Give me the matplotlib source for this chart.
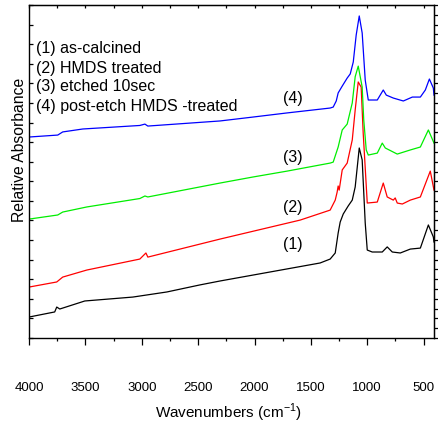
import matplotlib
matplotlib.use("Agg")
import matplotlib.pyplot as plt
from matplotlib.ticker import MultipleLocator, NullFormatter

plt.rcParams['font.family'] = ['Liberation Sans', 'DejaVu Sans']
plt.rcParams['mathtext.fontset'] = 'custom'
plt.rcParams['mathtext.rm'] = 'Liberation Sans'

# ---- data (wavenumber cm-1, relative absorbance, offset stacked) ----
wn_4 = [4000, 3745, 3701, 3523, 3017, 2972, 2946, 2306, 2013, 1711, 1329, 1302, 1275,
        1258, 1222, 1178, 1151, 1124, 1098, 1071, 1045, 1018, 991, 911, 858, 831, 769,
        680, 600, 529, 485, 449, 414, 408]
ab_4 = [1.026, 1.036, 1.052, 1.067, 1.085, 1.092, 1.082, 1.108, 1.128, 1.149, 1.174,
        1.179, 1.210, 1.251, 1.286, 1.327, 1.348, 1.409, 1.547, 1.644, 1.557, 1.317,
        1.215, 1.215, 1.266, 1.240, 1.225, 1.210, 1.230, 1.230, 1.266, 1.322, 1.276, 1.240]

wn_3 = [4000, 3745, 3701, 3487, 3017, 2972, 2946, 2306, 2013, 1711, 1329, 1302, 1258,
        1222, 1178, 1133, 1107, 1080, 1045, 1031, 1009, 991, 911, 867, 840, 734, 618,
        529, 458, 408]
ab_3 = [0.607, 0.628, 0.643, 0.669, 0.712, 0.725, 0.720, 0.791, 0.822, 0.852, 0.893,
        0.898, 0.975, 1.062, 1.092, 1.200, 1.334, 1.388, 1.281, 1.113, 0.960, 0.934,
        0.944, 0.995, 0.970, 0.939, 0.960, 0.975, 1.062, 0.995]

wn_2 = [4000, 3754, 3701, 3487, 3017, 2963, 2946, 2306, 1595, 1329, 1284, 1267, 1258,
        1249, 1222, 1178, 1133, 1107, 1080, 1054, 1036, 1000, 911, 858, 823, 769, 752,
        734, 689, 618, 529, 441, 408]
ab_2 = [0.260, 0.286, 0.311, 0.347, 0.403, 0.434, 0.413, 0.505, 0.602, 0.653, 0.704,
        0.745, 0.776, 0.755, 0.858, 0.893, 1.011, 1.164, 1.307, 1.281, 1.046, 0.689,
        0.694, 0.791, 0.720, 0.704, 0.715, 0.689, 0.684, 0.704, 0.720, 0.852, 0.755]

wn_1 = [4000, 3772, 3754, 3727, 3505, 3079, 2777, 2484, 2306, 1418, 1329, 1284, 1258,
        1240, 1213, 1169, 1133, 1107, 1071, 1045, 1018, 1000, 956, 867, 823, 778, 707,
        618, 529, 458, 414, 408]
ab_1 = [0.107, 0.133, 0.158, 0.148, 0.189, 0.209, 0.235, 0.271, 0.291, 0.383, 0.403,
        0.434, 0.536, 0.592, 0.633, 0.674, 0.704, 0.771, 0.970, 0.909, 0.587, 0.449,
        0.439, 0.439, 0.465, 0.439, 0.434, 0.454, 0.459, 0.577, 0.516, 0.490]

legend_lines = ["(1) as-calcined", "(2) HMDS treated", "(3) etched 10sec",
                "(4) post-etch HMDS -treated"]
curve_labels = ["(1)", "(2)", "(3)", "(4)"]
label_wn = [1658, 1658, 1658, 1658]
label_ab = [0.475, 0.664, 0.924, 1.225]

x_ticks = [4000, 3500, 3000, 2500, 2000, 1500, 1000, 500]

fig = plt.figure(figsize=(4.39, 4.25), dpi=100)
L, R, B, T = 29, 434, 338, 5
W, H = 439, 425
ax = fig.add_axes([L / W, (H - B) / H, (R - L) / W, (B - T) / H])

lw = 0.9
ax.plot(wn_1, ab_1, color='black', lw=lw)
ax.plot(wn_2, ab_2, color='#ff0000', lw=lw)
ax.plot(wn_3, ab_3, color='#00ee00', lw=lw)
ax.plot(wn_4, ab_4, color='#0000ff', lw=lw)

ax.set_xlim(4000, 408)
ax.set_ylim(0, 1.7)

ax.set_xticks(x_ticks)
ax.set_xticklabels([str(t) for t in x_ticks])
ax.xaxis.set_minor_locator(MultipleLocator(250))
ax.tick_params(axis='x', which='major', direction='out', length=4.8, width=0.9,
               pad=27, labelsize=9.5, top=False)
ax.tick_params(axis='x', which='minor', direction='out', length=2.4, width=0.9, top=False)

ax.yaxis.set_major_locator(MultipleLocator(0.1))
ax.yaxis.set_major_formatter(NullFormatter())
ax.tick_params(axis='y', which='major', direction='in', length=3, width=0.9, right=False)

for s in ax.spines.values():
    s.set_linewidth(1.0)

top = ax.secondary_xaxis('top')
top.set_xticks(x_ticks)
top.xaxis.set_minor_locator(MultipleLocator(250))
top.tick_params(which='both', direction='in', length=2.5, width=0.9, labeltop=False)

right = ax.secondary_yaxis('right')
right.yaxis.set_major_locator(MultipleLocator(0.05))
right.tick_params(which='both', direction='out', length=3, width=0.9, labelright=False)

ax.set_xlabel("Wavenumbers (cm$^{-1}$)", fontsize=11)
ax.xaxis.set_label_coords((228 - L) / (R - L), (B - 413) / (B - T))
ax.xaxis.label.set_va('center')
ax.set_ylabel("Relative Absorbance", fontsize=11.3)
ax.yaxis.set_label_coords((20 - L) / (R - L), (B - 150) / (B - T))
ax.yaxis.label.set_va('center')

ys = [49, 68, 87, 107]
for txt, py in zip(legend_lines, ys):
    ax.text((36 - L) / (R - L), (B - py) / (B - T), txt, transform=ax.transAxes,
            fontsize=11.5, ha='left', va='center')

for txt, x, y in zip(curve_labels, label_wn, label_ab):
    ax.text(x, y, txt, fontsize=11.5, ha='center', va='center')

fig.savefig("out.png", dpi=100)
